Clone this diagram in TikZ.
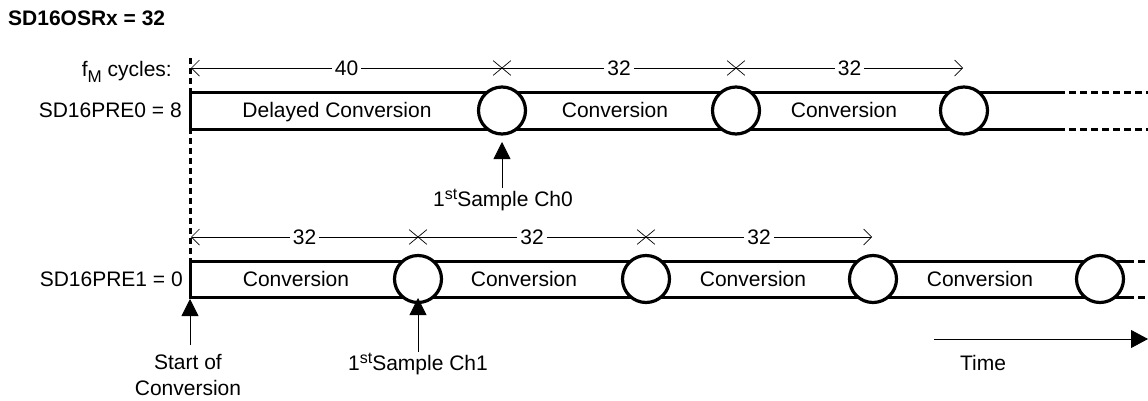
\documentclass[tikz,border=0pt]{standalone}
\usepackage{fontspec}
\setmainfont{Liberation Sans}
\usetikzlibrary{arrows.meta,shapes.misc}
\newcommand{\supst}{\raisebox{7pt}{\fontsize{16}{16}\selectfont st}}
\begin{document}
\begin{tikzpicture}[x=1pt,y=-1pt,
  txt/.style={font=\fontsize{21}{26}\selectfont, inner sep=0pt},
  lbl/.style={txt, text height=15pt, text depth=0pt},
  rowline/.style={line width=3pt},
  dashthick/.style={line width=3pt, dash pattern=on 6pt off 4pt},
  rowdash/.style={line width=3pt, dash pattern=on 7pt off 4pt},
  dimline/.style={line width=0.7pt},
  dimlabel/.style={lbl, fill=white, inner xsep=3pt, inner ysep=1pt},
  samp/.style={circle, draw, line width=3.2pt, fill=white, minimum size=47pt, inner sep=0pt},
  pointer/.style={line width=0.8pt, -{Triangle[length=17pt,width=17pt]}},
  tick/.style={cross out, draw, line width=0.7pt, minimum width=17pt, minimum height=14pt, inner sep=0pt},
  openl/.style={{Straight Barb[length=8pt,width=16pt,line width=0.7pt]}-},
  openr/.style={-{Straight Barb[length=8pt,width=16pt,line width=0.7pt]}}
]
\useasboundingbox (0,0) rectangle (1148,400);

% title
\node[lbl, font=\fontsize{21}{24}\selectfont\bfseries, anchor=west] (title) at (8,18) {SD16OSRx = 32};

% left labels
\node[lbl, anchor=east] (fm) at (172,68.5) {f\raisebox{-6pt}{\fontsize{17}{17}\selectfont M} cycles:};
\node[lbl, anchor=east] (pre0) at (182,110) {SD16PRE0 = 8};
\node[lbl, anchor=east] (pre1) at (183,279) {SD16PRE1 = 0};

% vertical dashed start line
\coordinate (vtop) at (190,58);
\coordinate (vbot) at (190,261);
\draw[dashthick] (vtop) -- (vbot);

% row 0
\coordinate (r0tl) at (190,92);
\coordinate (r0bl) at (190,129);
\coordinate (r0te) at (1058,92);
\coordinate (r0be) at (1058,129);
\coordinate (r0tr) at (1148,92);
\coordinate (r0br) at (1148,129);
\draw[rowline] (r0te) -- (r0tl) -- (r0bl) -- (r0be);
\draw[rowdash] (r0te) -- (r0tr);
\draw[rowdash] (r0be) -- (r0br);
\node[samp] (c01) at (502,110.5) {};
\node[samp] (c02) at (736,110.5) {};
\node[samp] (c03) at (964,110.5) {};
\node[lbl] (t01) at (337,110) {Delayed Conversion};
\node[lbl] (t02) at (615,110) {Conversion};
\node[lbl] (t03) at (844,110) {Conversion};

% row 1
\coordinate (r1tl) at (190,261);
\coordinate (r1bl) at (190,297);
\coordinate (r1te) at (1127,261);
\coordinate (r1be) at (1127,297);
\coordinate (r1tr) at (1148,261);
\coordinate (r1br) at (1148,297);
\draw[rowline] (r1te) -- (r1tl) -- (r1bl) -- (r1be);
\draw[rowdash] (r1te) -- (r1tr);
\draw[rowdash] (r1be) -- (r1br);
\node[samp] (c11) at (418,279) {};
\node[samp] (c12) at (646,279) {};
\node[samp] (c13) at (873,279) {};
\node[samp] (c14) at (1100,279) {};
\node[lbl] (t11) at (296,279) {Conversion};
\node[lbl] (t12) at (524,279) {Conversion};
\node[lbl] (t13) at (753,279) {Conversion};
\node[lbl] (t14) at (980,279) {Conversion};

% dimension row 0
\coordinate (d00) at (191,68);
\node[tick] (x01) at (502,68) {};
\node[tick] (x02) at (736,68) {};
\coordinate (d03) at (963,68);
\draw[dimline, openl] (d00) -- node[dimlabel] {40} (x01.center);
\draw[dimline] (x01.center) -- node[dimlabel] {32} (x02.center);
\draw[dimline, openr] (x02.center) -- node[dimlabel] {32} (d03);

% dimension row 1
\coordinate (d10) at (191,237);
\node[tick] (x11) at (418,237) {};
\node[tick] (x12) at (646,237) {};
\coordinate (d13) at (872,237);
\draw[dimline, openl] (d10) -- node[dimlabel] {32} (x11.center);
\draw[dimline] (x11.center) -- node[dimlabel] {32} (x12.center);
\draw[dimline, openr] (x12.center) -- node[dimlabel] {32} (d13);

% pointers
\node[lbl] (s0) at (503,199) {1\supst Sample Ch0};
\coordinate (s0a) at (502,188);
\coordinate (s0b) at (502,142);
\draw[pointer] (s0a) -- (s0b);

\node[txt, align=center, anchor=north] (start) at (188,354) {Start of\\Conversion};
\coordinate (sa) at (190,345);
\coordinate (sb) at (190,299);
\draw[pointer] (sa) -- (sb);

\node[lbl] (s1) at (418,363) {1\supst Sample Ch1};
\coordinate (s1a) at (418,352);
\coordinate (s1b) at (418,298);
\draw[pointer] (s1a) -- (s1b);

% time arrow
\coordinate (tm0) at (934,339);
\coordinate (tm1) at (1148,339);
\draw[line width=0.8pt, -{Triangle[length=17pt,width=18pt]}] (tm0) -- (tm1);
\node[lbl] (time) at (983,362.5) {Time};
\end{tikzpicture}
\end{document}
